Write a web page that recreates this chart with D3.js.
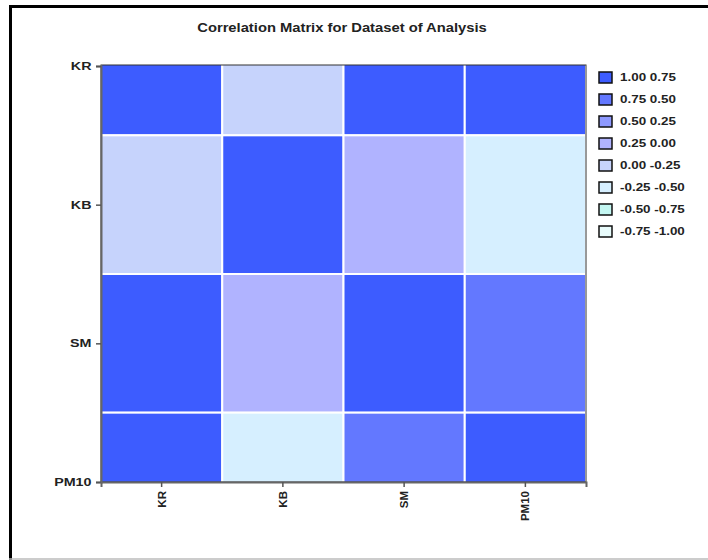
<!DOCTYPE html>
<html>
<head>
<meta charset="utf-8">
<script src="https://cdn.jsdelivr.net/npm/d3@7"></script>
<style>
  body { margin: 0; background: #fff; }
  text { font-family: "Liberation Sans", Arial, sans-serif; font-weight: bold; fill: #222; }
</style>
</head>
<body>
<script>
// variables (rows top->bottom, columns left->right)
const vars = ["KR", "KB", "SM", "PM10"];
// correlation values (estimated within each colour class)
const corrKR   = [1.00, -0.12, 0.92, 0.88];
const corrKB   = [-0.12, 1.00, 0.10, -0.35];
const corrSM   = [0.92, 0.10, 1.00, 0.60];
const corrPM10 = [0.88, -0.35, 0.60, 1.00];
const corr = [corrKR, corrKB, corrSM, corrPM10];

const legendLabels = ["1.00 0.75", "0.75 0.50", "0.50 0.25", "0.25 0.00",
                      "0.00 -0.25", "-0.25 -0.50", "-0.50 -0.75", "-0.75 -1.00"];
const legendColors = ["#3d5cff", "#6378ff", "#8e99ff", "#b0b3ff",
                      "#c6d3fc", "#d6efff", "#c4f7f2", "#e8fbfb"];
const breaks = [-0.75, -0.5, -0.25, 0, 0.25, 0.5, 0.75];

const width = 708, height = 560;
const margin = {top: 65, right: 122, bottom: 78, left: 101};
const stretch = 1.3; // the source image is a bit wider than tall, text looks stretched

const svg = d3.select("body").append("svg")
    .attr("width", width)
    .attr("height", height);

// outer frame (as in the screenshot)
svg.append("line").attr("x1", 9).attr("x2", width).attr("y1", 6.5).attr("y2", 6.5)
    .attr("stroke", "#000").attr("stroke-width", 3);
svg.append("line").attr("x1", 10.5).attr("x2", 10.5).attr("y1", 5).attr("y2", height)
    .attr("stroke", "#000").attr("stroke-width", 3);
svg.append("line").attr("x1", 9).attr("x2", width).attr("y1", 559).attr("y2", 559)
    .attr("stroke", "#bbb").attr("stroke-width", 1.5);

svg.append("text")
    .attr("transform", "translate(342,32) scale(1.23,1)")
    .attr("text-anchor", "middle")
    .style("font-size", "12px")
    .text("Correlation Matrix for Dataset of Analysis");

const x0 = margin.left, x1 = width - margin.right;
const y0 = margin.top, y1 = height - margin.bottom;

const x = d3.scaleBand().domain(vars).range([x0, x1]);
const y = d3.scalePoint().domain(vars).range([y0 + 1, y1]);
const step = y.step();

const color = d3.scaleThreshold().domain(breaks).range(legendColors.slice().reverse());

svg.append("clipPath").attr("id", "plotClip")
  .append("rect").attr("x", x0).attr("y", y0).attr("width", x1 - x0).attr("height", y1 - y0);

const cells = [];
corr.forEach((row, i) => row.forEach((v, j) => cells.push({r: vars[i], c: vars[j], v})));

svg.append("g")
    .attr("clip-path", "url(#plotClip)")
  .selectAll("rect")
  .data(cells)
  .join("rect")
    .attr("x", d => x(d.c))
    .attr("y", d => y(d.r) - step / 2)
    .attr("width", x.bandwidth())
    .attr("height", step)
    .attr("fill", d => color(d.v))
    .attr("stroke", "#fff")
    .attr("stroke-width", 2);

// plot frame
svg.append("rect")
    .attr("x", x0).attr("y", y0)
    .attr("width", x1 - x0).attr("height", y1 - y0)
    .attr("fill", "none")
    .attr("stroke", "#333")
    .attr("stroke-width", 1);

// axes
const yAxis = svg.append("g")
    .attr("transform", `translate(${x0},0)`)
    .call(d3.axisLeft(y).tickSize(5).tickPadding(4));
const xAxis = svg.append("g")
    .attr("transform", `translate(0,${y1})`)
    .call(d3.axisBottom(x).tickSize(5).tickPadding(4));

[xAxis, yAxis].forEach(a => {
  a.select(".domain").attr("stroke", "#666").attr("stroke-width", 2);
  a.selectAll(".tick line").attr("stroke", "#555").attr("stroke-width", 1.5);
  a.selectAll("text").style("font-size", "11px").attr("fill", "#222");
});
yAxis.selectAll("text")
    .attr("x", -9.5 / stretch)
    .attr("transform", `scale(${stretch},1)`);
xAxis.selectAll("text")
    .attr("transform", "rotate(-90)")
    .attr("text-anchor", "end")
    .attr("dy", "0.35em")
    .attr("x", -9)
    .attr("y", 0)
    .style("font-size", "11.5px");
svg.selectAll(".tick text").attr("font-family", null).attr("font-weight", null);

// legend
const legend = svg.append("g").attr("transform", "translate(599,72)");
const item = legend.selectAll("g")
  .data(legendLabels)
  .join("g")
    .attr("transform", (d, i) => `translate(0,${i * 22})`);
item.append("rect")
    .attr("width", 13).attr("height", 11)
    .attr("fill", (d, i) => legendColors[i])
    .attr("stroke", "#111")
    .attr("stroke-width", 1.5);
item.append("text")
    .attr("transform", `translate(21,5.5) scale(1.22,1)`)
    .attr("dy", "0.35em")
    .style("font-size", "11px")
    .text(d => d);
</script>
</body>
</html>
